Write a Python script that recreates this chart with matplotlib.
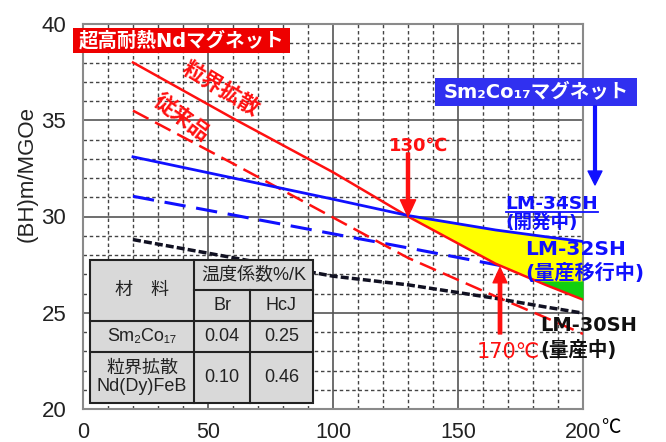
import numpy as np
import matplotlib
matplotlib.use("Agg")
import matplotlib.pyplot as plt
from matplotlib.patches import Rectangle
from matplotlib.ticker import MultipleLocator

# --- data (temperature in degC, (BH)max in MGOe) ---
temp = [20, 60, 100, 130, 165, 185, 200]
nd_gbd = [38.0, 35.1, 32.3, 30.0, 27.55, 26.45, 25.68]     # 粒界拡散 (red solid)
nd_conv = [35.5, 32.75, 29.95, 27.85, 25.85, 24.75, 23.9]  # 従来品 (red dashed)
lm34 = [33.1, 32.0, 30.9, 30.05, 29.3, 28.95, 28.7]        # LM-34SH (blue solid)
lm32 = [31.05, 30.08, 29.1, 28.37, 27.5, 27.0, 26.6]       # LM-32SH (blue dashed)
lm30 = [28.8, 27.86, 26.9, 26.45, 25.75, 25.3, 24.98]      # LM-30SH (black dashed)
green_top = 26.65   # upper edge of the green zone

table_header = ["材　料", "温度係数%/K", "Br", "HcJ"]
table_rows = ["Sm₂Co₁₇", "粒界拡散\nNd(Dy)FeB"]
table_br = ["0.04", "0.10"]
table_hcj = ["0.25", "0.46"]

RED = "#FF1010"
BLUE = "#1010FF"
LAT = ["Liberation Sans", "DejaVu Sans", "Noto Sans CJK JP"]
LBL = ["DejaVu Sans", "Noto Sans CJK JP"]

fig = plt.figure(figsize=(6.66, 4.42), dpi=100)
ax = fig.add_axes([83 / 666, 33 / 442, 500 / 666, 385 / 442])

ax.set_xlim(0, 200)
ax.set_ylim(20, 40)
ax.xaxis.set_major_locator(MultipleLocator(50))
ax.xaxis.set_minor_locator(MultipleLocator(10))
ax.yaxis.set_major_locator(MultipleLocator(5))
ax.yaxis.set_minor_locator(MultipleLocator(1))
ax.grid(which="major", color="#555555", linewidth=1.2, linestyle="-")
ax.grid(which="minor", color="#444444", linewidth=1.0, linestyle=(0, (2.5, 2)))
ax.set_axisbelow(True)
ax.tick_params(which="both", direction="in", length=0, colors="#222222")
ax.tick_params(axis="x", pad=9, labelsize=15.5)
ax.tick_params(axis="y", pad=12, labelsize=16)
for lab in ax.get_xticklabels() + ax.get_yticklabels():
    lab.set_family(LAT)
for sp in ax.spines.values():
    sp.set_color("#8a8a8a")
    sp.set_linewidth(1.5)

ax.set_ylabel("(BH)m/MGOe", family=LAT, fontsize=16, color="#222222")
ax.yaxis.set_label_coords(-0.09, 0.61)
ax.text(211, 19.05, "℃", family=["Noto Sans CJK JP"], fontsize=14,
        ha="center", va="center", clip_on=False)

# --- fills between the curves ---
t = np.array(temp)
red = np.array(nd_gbd)
ax.fill_between(t, red, lm34, where=np.array(lm34) >= red,
                interpolate=True, color="#FFFF00", linewidth=0, zorder=2.5)
ax.fill_between(t, red, green_top, where=red <= green_top,
                interpolate=True, color="#10D010", linewidth=0, zorder=2.6)

# --- curves ---
ax.plot(temp, nd_gbd, color=RED, linewidth=1.8, zorder=3)
ax.plot(temp, nd_conv, color=RED, linewidth=1.8, dashes=(7, 3), zorder=3)
ax.plot(temp, lm34, color=BLUE, linewidth=2.0, zorder=3)
ax.plot(temp, lm32, color=BLUE, linewidth=2.2, dashes=(7, 3.5), zorder=2.2)
ax.plot(temp, lm30, color="#111122", linewidth=2.5, dashes=(2.3, 0.9), zorder=3)

# --- title boxes ---
ax.add_patch(Rectangle((-4, 38.48), 86.8, 1.3, facecolor="#EE0000",
                       edgecolor="none", clip_on=False, zorder=5))
ax.text(39.4, 39.13, "超高耐熱Ndマグネット", family=LBL, fontsize=14,
        fontweight="bold", color="white", ha="center", va="center",
        clip_on=False, zorder=6)
ax.add_patch(Rectangle((140.8, 35.74), 80.8, 1.45, facecolor="#3030F0",
                       edgecolor="none", clip_on=False, zorder=5))
ax.text(181.2, 36.46, "Sm₂Co₁₇マグネット", family=LBL, fontsize=14,
        fontweight="bold", color="white", ha="center", va="center",
        clip_on=False, zorder=6)

ax.text(55, 36.65, "粒界拡散", family=["Noto Sans CJK JP"], fontsize=15.5,
        fontweight="bold", color=RED, rotation=-31, rotation_mode="anchor",
        ha="center", va="center", zorder=6)
ax.text(39.6, 35.15, "従来品", family=["Noto Sans CJK JP"], fontsize=15.5,
        fontweight="bold", color=RED, rotation=-37, rotation_mode="anchor",
        ha="center", va="center", zorder=6)

# --- arrows and temperature marks ---
ax.annotate("", xy=(130, 30.0), xytext=(130, 33.3),
            arrowprops=dict(facecolor=RED, edgecolor=RED, width=2.2,
                            headwidth=11, headlength=12, shrink=0), zorder=6)
ax.text(134.4, 33.7, "130℃", family=LBL, fontsize=13, fontweight="bold",
        color=RED, ha="center", va="center", zorder=6)
ax.annotate("", xy=(166.8, 27.35), xytext=(166.8, 23.9),
            arrowprops=dict(facecolor=RED, edgecolor=RED, width=2.4,
                            headwidth=10, headlength=11, shrink=0), zorder=6)
ax.text(170, 22.96, "170℃", family=LBL, fontsize=15, color=RED,
        ha="center", va="center", zorder=6)
ax.annotate("", xy=(204.8, 31.64), xytext=(204.8, 35.74),
            arrowprops=dict(facecolor=BLUE, edgecolor=BLUE, width=2.0,
                            headwidth=10, headlength=10, shrink=0),
            annotation_clip=False, zorder=6)

# --- grade labels ---
t34 = ax.text(169, 30.65, "LM-34SH", family=LBL, fontsize=13.3,
              fontweight="bold", color=BLUE, ha="left", va="center",
              clip_on=False, zorder=6)
ax.text(169, 29.68, "(開発中)", family=LBL, fontsize=13.3, fontweight="bold",
        color=BLUE, ha="left", va="center", clip_on=False, zorder=6)
ax.text(176.8, 28.29, "LM-32SH", family=LBL, fontsize=14.5,
        fontweight="bold", color=BLUE, ha="left", va="center",
        clip_on=False, zorder=6)
ax.text(176.8, 27.06, "(量産移行中)", family=LBL, fontsize=14.5,
        fontweight="bold", color=BLUE, ha="left", va="center",
        clip_on=False, zorder=6)
ax.text(182.8, 24.34, "LM-30SH", family=LBL, fontsize=14, fontweight="bold",
        color="#111111", ha="left", va="center", clip_on=False, zorder=6)
ax.text(182.8, 23.09, "(量産中)", family=LBL, fontsize=14, fontweight="bold",
        color="#111111", ha="left", va="center", clip_on=False, zorder=6)

# underline under LM-34SH
fig.canvas.draw()
bb = t34.get_window_extent().transformed(ax.transData.inverted())
ax.plot([bb.x0, bb.x1], [bb.y0 + 0.05, bb.y0 + 0.05], color=BLUE,
        linewidth=1.3, clip_on=False, zorder=6)

# --- coefficient table ---
xe = [2.8, 44.5, 66.8, 91.9]
ye = [27.74, 26.17, 24.57, 22.98, 20.33]
ax.add_patch(Rectangle((xe[0], ye[-1]), xe[-1] - xe[0], ye[0] - ye[-1],
                       facecolor="#D9D9D9", edgecolor="#222222",
                       linewidth=1.5, zorder=7))
lk = dict(color="#222222", linewidth=1.5, zorder=8)
ax.plot([xe[1], xe[1]], [ye[0], ye[-1]], **lk)
ax.plot([xe[2], xe[2]], [ye[1], ye[-1]], **lk)
ax.plot([xe[1], xe[3]], [ye[1], ye[1]], **lk)
ax.plot([xe[0], xe[3]], [ye[2], ye[2]], **lk)
ax.plot([xe[0], xe[3]], [ye[3], ye[3]], **lk)

tk = dict(family=LAT, fontsize=13, color="#222222", ha="center",
          va="center", zorder=9)
ax.text((xe[0] + xe[1]) / 2, (ye[0] + ye[2]) / 2, table_header[0], **tk)
ax.text((xe[1] + xe[3]) / 2, (ye[0] + ye[1]) / 2, table_header[1], **tk)
ax.text((xe[1] + xe[2]) / 2, (ye[1] + ye[2]) / 2, table_header[2], **tk)
ax.text((xe[2] + xe[3]) / 2, (ye[1] + ye[2]) / 2, table_header[3], **tk)
for i in range(len(table_rows)):
    yc = (ye[2 + i] + ye[3 + i]) / 2
    ax.text((xe[0] + xe[1]) / 2, yc, table_rows[i], linespacing=1.1, **tk)
    ax.text((xe[1] + xe[2]) / 2, yc, table_br[i], **tk)
    ax.text((xe[2] + xe[3]) / 2, yc, table_hcj[i], **tk)

fig.savefig("out.png", dpi=100)
